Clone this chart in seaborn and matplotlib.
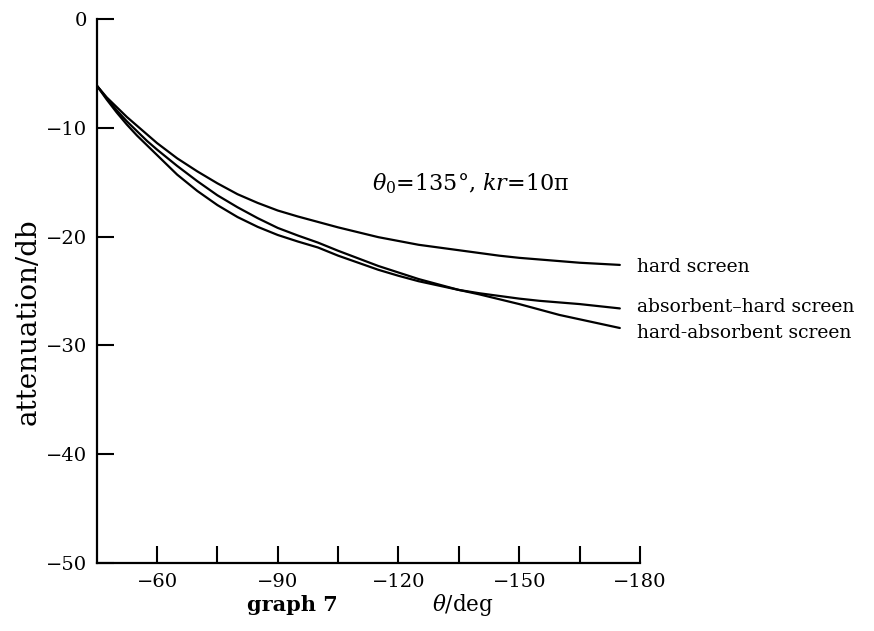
"""Attenuation behind a screen vs. angle (graph 7) -> out.png"""
import matplotlib
matplotlib.use("Agg")
import matplotlib.pyplot as plt
import pandas as pd
import seaborn as sns

# values
theta = [-45, -47.5, -50, -52.5, -55, -57.5, -60, -65, -70, -75, -80, -85, -90,
         -95, -100, -105, -110, -115, -120, -125, -130, -135, -140, -145,
         -150, -155, -160, -165, -170, -175]
hard = [-6.1, -7.2, -8.1, -9.0, -9.8, -10.6, -11.4, -12.8, -14.0, -15.1, -16.1,
        -16.9, -17.6, -18.15, -18.65, -19.15, -19.6, -20.05, -20.4, -20.75,
        -21.0, -21.25, -21.5, -21.75, -21.95, -22.1, -22.25, -22.4, -22.5, -22.6]
hard_absorbent = [-6.1, -7.3, -8.4, -9.4, -10.3, -11.2, -12.0, -13.5, -14.9,
                  -16.2, -17.3, -18.3, -19.2, -19.9, -20.55, -21.3, -22.0,
                  -22.7, -23.3, -23.9, -24.4, -24.9, -25.3, -25.75, -26.2,
                  -26.7, -27.2, -27.6, -28.0, -28.4]
absorbent_hard = [-6.1, -7.4, -8.6, -9.7, -10.7, -11.6, -12.5, -14.3, -15.8,
                  -17.1, -18.2, -19.1, -19.85, -20.45, -21.0, -21.75, -22.4,
                  -23.05, -23.6, -24.1, -24.5, -24.9, -25.2, -25.45, -25.7,
                  -25.9, -26.05, -26.2, -26.4, -26.6]

labels = ["hard screen", "absorbent\u2013hard screen", "hard-absorbent screen"]
label_y = [-22.8, -26.5, -28.9]

x_major = [-60, -90, -120, -150, -180]
x_minor = [-75, -105, -135, -165]
y_ticks = [0, -10, -20, -30, -40, -50]

df = pd.concat([
    pd.DataFrame({"theta": theta, "att": hard, "screen": "hard"}),
    pd.DataFrame({"theta": theta, "att": absorbent_hard, "screen": "absorbent-hard"}),
    pd.DataFrame({"theta": theta, "att": hard_absorbent, "screen": "hard-absorbent"}),
])

sns.set_style("white")
plt.rcParams["font.family"] = ["DejaVu Serif"]
plt.rcParams["mathtext.fontset"] = "dejavuserif"
plt.rcParams["text.color"] = "black"
plt.rcParams["xtick.color"] = "black"
plt.rcParams["ytick.color"] = "black"

fig = plt.figure(figsize=(8.74, 6.31), dpi=100)
ax = fig.add_axes([0.1106, 0.1078, 0.6216, 0.862])

sns.lineplot(data=df, x="theta", y="att", hue="screen",
             palette=["black"] * 3, legend=False, linewidth=1.6, ax=ax)
for line in ax.get_lines():
    line.set_solid_joinstyle("round")

ax.set_xlim(-45, -180)
ax.set_ylim(-50, 0)
ax.set_xticks(x_major)
ax.set_xticks(x_minor, minor=True)
ax.set_yticks(y_ticks)
ax.tick_params(axis="both", which="both", direction="in", length=12,
               width=1.5, color="black", labelcolor="black", labelsize=14,
               pad=7, bottom=True, left=True)
ax.set_xlabel("")
ax.set_ylabel("")
for side in ["top", "right"]:
    ax.spines[side].set_visible(False)
for side in ["left", "bottom"]:
    ax.spines[side].set_linewidth(1.6)
    ax.spines[side].set_color("black")

for lab, y in zip(labels, label_y):
    ax.text(-179.2, y, lab, ha="left", va="center", fontsize=13.5, clip_on=False)

ax.text(-137.9, -15.1, r"$\theta_0$=135°, $kr$=10π", ha="center",
        va="center", fontsize=16)

fig.text(0.032, 0.49, "attenuation/db", rotation=90, ha="center", va="center",
         fontsize=20)
fig.text(0.334, 0.041, "graph 7", ha="center", va="center", fontsize=15,
         fontweight="bold")
fig.text(0.53, 0.041, r"$\theta$/deg", ha="center", va="center", fontsize=15.5)

fig.savefig("out.png", dpi=100)
